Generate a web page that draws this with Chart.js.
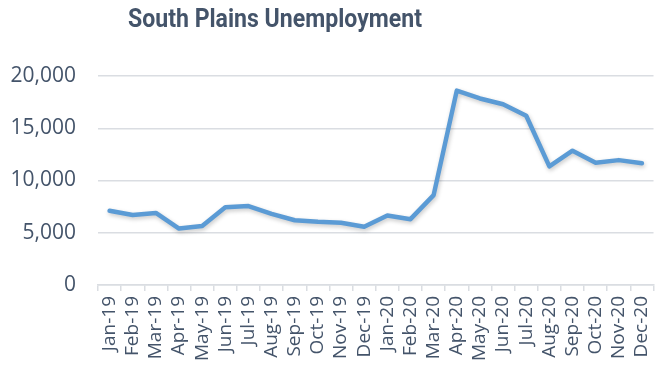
<!DOCTYPE html>
<html>
<head>
<meta charset="utf-8">
<title>South Plains Unemployment</title>
<script src="https://cdn.jsdelivr.net/npm/chart.js@4.4.1/dist/chart.umd.min.js"></script>
<style>
  html, body { margin: 0; padding: 0; background: #ffffff; }
  #wrap { width: 670px; height: 370px; position: relative; }
</style>
</head>
<body>
<div id="wrap"><canvas id="chart" width="670" height="370"></canvas></div>
<script>
// Monthly unemployed persons, South Plains region
const months = [
  'Jan-19', 'Feb-19', 'Mar-19', 'Apr-19', 'May-19', 'Jun-19',
  'Jul-19', 'Aug-19', 'Sep-19', 'Oct-19', 'Nov-19', 'Dec-19',
  'Jan-20', 'Feb-20', 'Mar-20', 'Apr-20', 'May-20', 'Jun-20',
  'Jul-20', 'Aug-20', 'Sep-20', 'Oct-20', 'Nov-20', 'Dec-20'
];
const unemployed = [
  7100, 6700, 6900, 5400, 5650, 7450,
  7550, 6800, 6200, 6050, 5950, 5580,
  6650, 6300, 8600, 18600, 17850, 17300,
  16200, 11350, 12850, 11700, 11950, 11650
];
const yTicks = [0, 5000, 10000, 15000, 20000];
const chartTitle = 'South Plains Unemployment';

const textColor = '#44546A';
const gridColor = '#DADDE2';
const lineColor = '#5B9BD5';

// Title drawn above the plot in a slightly condensed bold face
const titlePlugin = {
  id: 'titleText',
  afterDraw(chart) {
    const ctx = chart.ctx;
    ctx.save();
    ctx.font = 'bold 26px Roboto, "Open Sans", sans-serif';
    ctx.fillStyle = textColor;
    ctx.textAlign = 'center';
    ctx.textBaseline = 'alphabetic';
    const w = ctx.measureText(chartTitle).width;
    const targetW = 294;
    ctx.translate(275, 27);
    ctx.scale(Math.min(1, targetW / w), 1);
    ctx.fillText(chartTitle, 0, 0);
    ctx.restore();
  }
};

// Soft drop shadow under the series line
const shadowPlugin = {
  id: 'lineShadow',
  beforeDatasetsDraw(chart) {
    const ctx = chart.ctx;
    ctx.save();
    ctx.shadowColor = 'rgba(0,0,0,0.22)';
    ctx.shadowBlur = 4;
    ctx.shadowOffsetX = 1;
    ctx.shadowOffsetY = 2;
  },
  afterDatasetsDraw(chart) {
    chart.ctx.restore();
  }
};

new Chart(document.getElementById('chart'), {
  type: 'line',
  data: {
    labels: months,
    datasets: [{
      label: 'Unemployed',
      data: unemployed,
      borderColor: lineColor,
      backgroundColor: lineColor,
      borderWidth: 4.5,
      borderJoinStyle: 'round',
      borderCapStyle: 'round',
      pointRadius: 0,
      pointHoverRadius: 0,
      tension: 0,
      fill: false
    }]
  },
  options: {
    responsive: false,
    animation: false,
    devicePixelRatio: 1,
    layout: { padding: { top: 76, left: 10, right: 12, bottom: 0 } },
    plugins: {
      legend: { display: false },
      title: { display: false },
      tooltip: { enabled: false }
    },
    scales: {
      x: {
        type: 'category',
        offset: true,
        afterFit(scale) { scale.height = 85; },
        grid: {
          display: true,
          offset: true,
          drawOnChartArea: false,
          drawTicks: true,
          tickLength: 6,
          color: gridColor,
          lineWidth: 1.5
        },
        border: { display: true, color: gridColor, width: 1.5 },
        ticks: {
          autoSkip: false,
          minRotation: 90,
          maxRotation: 90,
          padding: 5,
          color: textColor,
          font: { family: '"Open Sans", sans-serif', size: 19 }
        }
      },
      y: {
        min: 0,
        max: 20000,
        afterFit(scale) { scale.width = 88; },
        afterBuildTicks(scale) { scale.ticks = yTicks.map(v => ({ value: v })); },
        grid: {
          color: gridColor,
          lineWidth: 1.5,
          drawTicks: false
        },
        border: { display: false },
        ticks: {
          padding: 22,
          color: textColor,
          font: { family: '"Open Sans", sans-serif', size: 21 },
          callback: v => v.toLocaleString('en-US')
        }
      }
    }
  },
  plugins: [shadowPlugin, titlePlugin]
});
</script>
</body>
</html>
